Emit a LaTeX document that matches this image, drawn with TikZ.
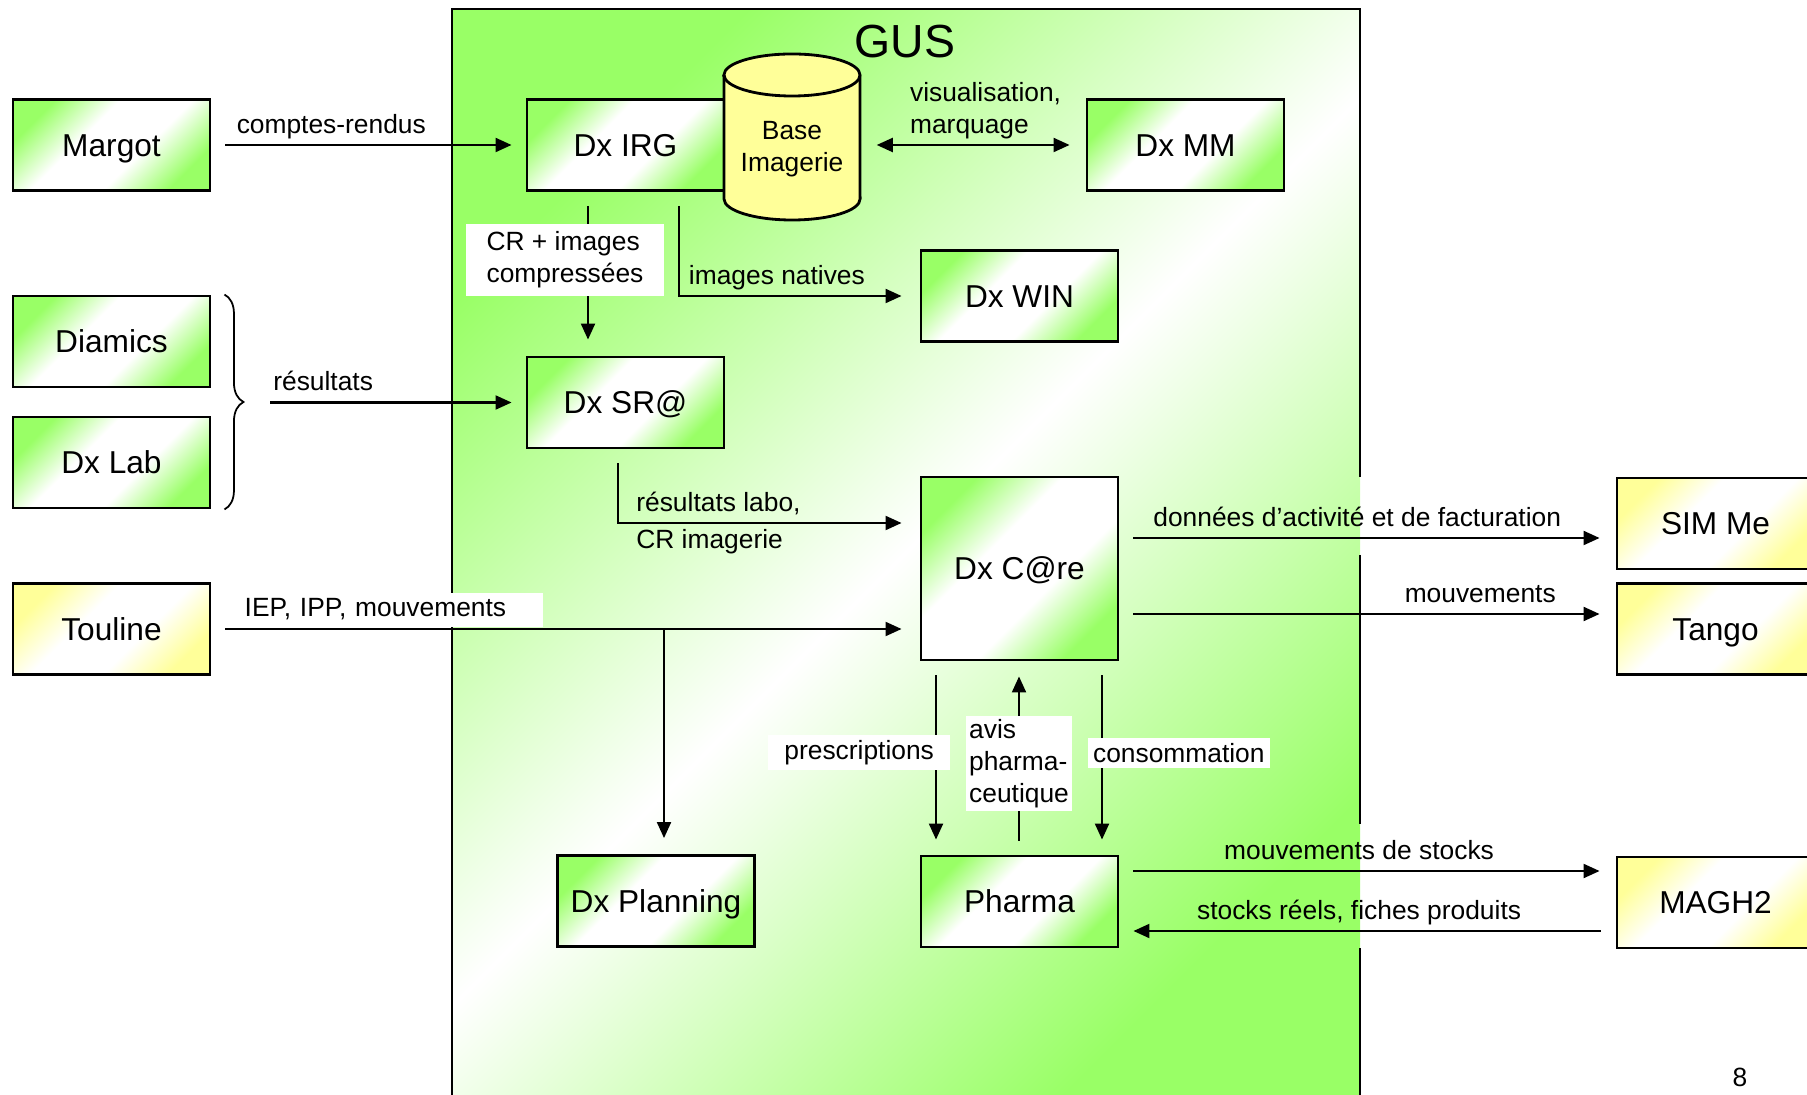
\documentclass[tikz,border=0pt]{standalone}
\usepackage{fontspec}
\setmainfont{Liberation Sans}
\usetikzlibrary{arrows.meta,calc,decorations.pathreplacing,positioning}
\definecolor{gusgreen}{RGB}{153,255,102}
\definecolor{appyellow}{RGB}{255,255,153}
% corner gradients of the boxes: coloured corners, wide white middle
\pgfdeclareverticalshading{boxgreen}{100bp}{color(0bp)=(gusgreen); color(25bp)=(gusgreen); color(41bp)=(white); color(59bp)=(white); color(75bp)=(gusgreen); color(100bp)=(gusgreen)}
\pgfdeclareverticalshading{boxyellow}{100bp}{color(0bp)=(appyellow); color(25bp)=(appyellow); color(41bp)=(white); color(59bp)=(white); color(75bp)=(appyellow); color(100bp)=(appyellow)}

\begin{document}
\begin{tikzpicture}[x=0.01cm, y=-0.01cm,
  >={Triangle[length=0.16cm, width=0.14cm]},
  sysbox/.style={draw, line width=0.8pt, minimum width=1.97cm, minimum height=0.91cm, inner sep=0pt, text height=0.227cm, text depth=0cm, font=\fontsize{9}{11}\selectfont},
  greenbox/.style={sysbox, shade, shading=boxgreen, shading angle=45},
  yellowbox/.style={sysbox, shade, shading=boxyellow, shading angle=45},
  flow/.style={->, line width=0.6pt},
  lbl/.style={font=\fontsize{7.5}{9.1}\selectfont, inner sep=1.5pt, align=left},
  edgelbl/.style={lbl, text height=0.19cm, text depth=0.055cm},
  whitelbl/.style={lbl, fill=white}]
  \clip (0,0) rectangle (1807,1095);
  \useasboundingbox (0,0) rectangle (1807,1095);

  % GUS zone (right border broken where the labels cross it)
  \shade[left color=gusgreen, right color=gusgreen, middle color=white, shading angle=45] (452,9) rectangle (1360,1095);
  \draw[line width=0.8pt] (452,1095) -- (452,9) -- (1360,9) -- (1360,477);
  \draw[line width=0.8pt] (1360,555) -- (1360,824);
  \draw[line width=0.8pt] (1360,948) -- (1360,1095);
  \node[font=\fontsize{13.2}{15}\selectfont] (gus) at (905,42) {GUS};

  % systems on the left
  \node[greenbox] (margot) at (111.5,145) {Margot};
  \node[greenbox] (diamics) at (111.5,341.5) {Diamics};
  \node[greenbox] (dxlab) at (111.5,462.5) {Dx Lab};
  \node[yellowbox] (touline) at (111.5,629) {Touline};

  % systems on the right
  \foreach \nm/\yy/\txt in {simme/523.5/SIM Me, tango/629/Tango, magh/902.5/MAGH2} {
    \node[yellowbox] (\nm) at (1715.5,\yy) {\txt};
  }

  % modules inside GUS
  \node[greenbox] (dxirg) at (625.5,145) {Dx IRG};
  \node[greenbox] (dxmm) at (1185.5,145) {Dx MM};
  \node[greenbox] (dxwin) at (1019.5,296) {Dx WIN};
  \node[greenbox] (dxsra) at (625.5,402.5) {Dx SR@};
  \node[greenbox, minimum height=1.83cm] (dxcare) at (1019.5,568.5) {Dx C@re};
  \node[greenbox] (dxplan) at (656,901) {Dx Planning};
  \node[greenbox] (pharma) at (1019.5,901.5) {Pharma};

  % Base Imagerie cylinder
  \filldraw[fill=appyellow, line width=0.8pt] (724,75) -- (724,199)
    arc[start angle=180, end angle=360, x radius=0.68cm, y radius=0.21cm] -- (860,75)
    arc[start angle=0, end angle=180, x radius=0.68cm, y radius=0.21cm] -- cycle;
  \draw[line width=0.8pt] (724,75) arc[start angle=180, end angle=360, x radius=0.68cm, y radius=0.21cm];
  \node[lbl, align=center, minimum width=1.36cm, inner sep=0pt] (base) at (792,149.5) {Base\\Imagerie};

  % flows into GUS
  \draw[flow] ($(margot.east)+(14,0)$) -- ($(dxirg.west)+(-14,0)$) node[edgelbl, pos=0.37, above] {comptes-rendus};
  \draw[decorate, decoration={brace, amplitude=0.19cm}, line width=0.5pt] ($(diamics.north east)+(13,0)$) -- ($(dxlab.south east)+(13,0)$);
  \coordinate (brtip) at (270,402.5);
  \draw[flow] (brtip) -- ($(dxsra.west)+(-14,0)$) node[edgelbl, pos=0.22, above] {résultats};
  \draw[flow] ($(touline.east)+(14,0)$) -- ($(dxcare.west)+(-18,60.5)$);
  \coordinate (tap) at (664,629);
  \draw[flow] (tap) -- ($(dxplan.north)+(8,-16)$);
  \node[whitelbl, anchor=south west, text width=2.78cm, inner xsep=0.2cm, minimum height=0.31cm, text depth=0.055cm] (ieplbl) at (224,627.5) {IEP, IPP, mouvements};

  % flows inside GUS
  \draw[<->, line width=0.6pt] ($(base.east)+(16,-4.5)$) -- ($(dxmm.west)+(-16,0)$) node[lbl, pos=0.14, above right] {visualisation,\\marquage};
  \draw[flow] ($(dxirg.south)+(-37.5,14)$) -- ($(dxsra.north)+(-37.5,-16)$);
  \node[whitelbl, minimum width=1.97cm, minimum height=0.72cm] (crlbl) at (565,260) {CR + images\\compressées};
  \draw[flow] ($(dxirg.south)+(53.5,14)$) |- ($(dxwin.west)+(-18,0)$) node[edgelbl, pos=0.72, above] {images natives};
  \draw[flow] ($(dxsra.south)+(-7.5,14)$) |- ($(dxcare.west)+(-18,-45.5)$)
    node[edgelbl, pos=0.5, above right, xshift=0.12cm] {résultats labo,}
    node[edgelbl, pos=0.5, below right, xshift=0.12cm] {CR imagerie};
  \draw[flow] ($(dxcare.south)+(-83.5,14)$) -- ($(pharma.north)+(-83.5,-15)$)
    node[whitelbl, pos=0.47, anchor=east, xshift=0.15cm, inner xsep=0.16cm] {prescriptions};
  \draw[flow] ($(pharma.north)+(-0.5,-14)$) -- ($(dxcare.south)+(-0.5,15)$)
    node[whitelbl, pos=0.47, inner sep=0.03cm] {avis\\pharma-\\ceutique};
  \draw[flow] ($(dxcare.south)+(82.5,14)$) -- ($(pharma.north)+(82.5,-15)$)
    node[whitelbl, pos=0.47, anchor=west, xshift=-0.15cm, inner xsep=0.05cm] {consommation};

  % flows out of GUS
  \draw[flow] ($(dxcare.east)+(14,-30.5)$) -- ($(simme.west)+(-16,14.5)$) node[edgelbl, pos=0.48, above] {données d’activité et de facturation};
  \draw[flow] ($(dxcare.east)+(14,45.5)$) -- ($(tango.west)+(-16,-15)$) node[edgelbl, pos=0.744, above] {mouvements};
  \draw[flow] ($(pharma.east)+(14,-30.5)$) -- ($(magh.west)+(-16,-31.5)$) node[edgelbl, pos=0.484, above] {mouvements de stocks};
  \draw[flow] ($(magh.west)+(-15,28.5)$) -- ($(pharma.east)+(14,29.5)$) node[edgelbl, pos=0.517, above] {stocks réels, fiches produits};

  \node[edgelbl] (pagenum) at (1740,1080) {8};
\end{tikzpicture}
\end{document}
